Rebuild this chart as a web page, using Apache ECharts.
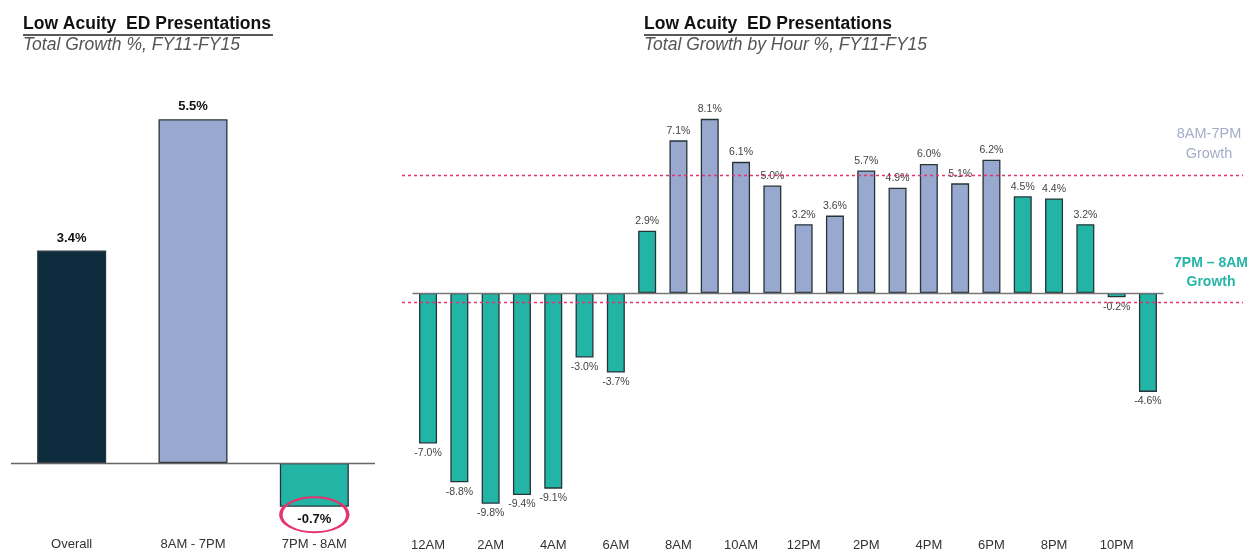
<!DOCTYPE html>
<html>
<head>
<meta charset="utf-8">
<script src="https://cdn.jsdelivr.net/npm/echarts@6/dist/echarts.min.js"></script>
<style>html,body{margin:0;padding:0;background:#fff;}#c{width:1253px;height:553px;}</style>
</head>
<body>
<div id="c"></div>
<script>
// Left chart: total growth
const totalCategories = ['Overall', '8AM - 7PM', '7PM - 8AM'];
const totalValues = [3.4, 5.5, -0.7];

// Right chart: growth by hour
const hourCategories = ['12AM','1AM','2AM','3AM','4AM','5AM','6AM','7AM','8AM','9AM','10AM','11AM',
                        '12PM','1PM','2PM','3PM','4PM','5PM','6PM','7PM','8PM','9PM','10PM','11PM'];
const hourValues = [-7.0, -8.8, -9.8, -9.4, -9.1, -3.0, -3.7, 2.9, 7.1, 8.1, 6.1, 5.0,
                    3.2, 3.6, 5.7, 4.9, 6.0, 5.1, 6.2, 4.5, 4.4, 3.2, -0.2, -4.6];
// Period of each hour: 'day' = 8AM-7PM, 'night' = 7PM-8AM
const hourPeriod = hourCategories.map((h, i) => (i >= 8 && i <= 18) ? 'day' : 'night');

// Reference lines (growth levels)
const refLines = [5.5, -0.45];

const NAVY = '#0c2b3d', BLUE = '#99a8cf', TEAL = '#22b5a6', EDGE = '#26343a', PINK = '#e6336e';
const totalColors = [NAVY, BLUE, TEAL];
const FONT = 'Liberation Sans, Arial, sans-serif';

const chart = echarts.init(document.getElementById('c'));
chart.setOption({
  backgroundColor: '#fff',
  animation: false,
  title: [
    { text: 'Low Acuity  ED Presentations', subtext: 'Total Growth %, FY11-FY15', left: 18, top: 10, itemGap: 3,
      textStyle: { fontFamily: FONT, fontSize: 17.5, fontWeight: 'bold', color: '#111' },
      subtextStyle: { fontFamily: FONT, fontSize: 17.5, fontStyle: 'italic', color: '#555' } },
    { text: 'Low Acuity  ED Presentations', subtext: 'Total Growth by Hour %, FY11-FY15', left: 639, top: 10, itemGap: 3,
      textStyle: { fontFamily: FONT, fontSize: 17.5, fontWeight: 'bold', color: '#111' },
      subtextStyle: { fontFamily: FONT, fontSize: 17.5, fontStyle: 'italic', color: '#555' } }
  ],
  graphic: [
    { type: 'line', shape: { x1: 23, y1: 35, x2: 273, y2: 35 }, style: { stroke: '#222', lineWidth: 1.5 } },
    { type: 'line', shape: { x1: 644, y1: 35, x2: 891, y2: 35 }, style: { stroke: '#222', lineWidth: 1.5 } },
    { type: 'text', x: 1209, y: 124, style: { text: '8AM-7PM\nGrowth', align: 'center', fill: '#a5acc8', font: '14.5px ' + FONT, lineHeight: 20 } },
    { type: 'text', x: 1211, y: 254, style: { text: '7PM – 8AM\nGrowth', align: 'center', fill: '#26b5a6', font: 'bold 14px ' + FONT, lineHeight: 19 } }
  ],
  grid: [
    { left: 11, right: 878, top: 88, bottom: 27.5 },
    { left: 412.4, right: 89.4, top: 99.5, bottom: 23.5 },
    { left: 402, right: 10, top: 99.5, bottom: 23.5 }
  ],
  xAxis: [
    { type: 'category', gridIndex: 0, data: totalCategories,
      axisLine: { show: false, onZero: false }, axisTick: { show: false },
      axisLabel: { fontFamily: FONT, fontSize: 13, color: '#333', margin: 12 } },
    { type: 'category', gridIndex: 1, data: hourCategories,
      axisLine: { show: false, onZero: false }, axisTick: { show: false },
      axisLabel: { interval: 1, fontFamily: FONT, fontSize: 13, color: '#333', margin: 9 } },
    { type: 'value', gridIndex: 2, min: 0, max: 1, show: false }
  ],
  yAxis: [
    { type: 'value', gridIndex: 0, min: -1, max: 6, show: false, splitLine: { show: false } },
    { type: 'value', gridIndex: 1, min: -11, max: 9, show: false, splitLine: { show: false } },
    { type: 'value', gridIndex: 2, min: -11, max: 9, show: false, splitLine: { show: false } }
  ],
  series: [
    { type: 'bar', xAxisIndex: 0, yAxisIndex: 0, barWidth: 69,
      data: totalValues.map((v, i) => ({ value: v,
        itemStyle: { color: totalColors[i] },
        label: { position: v >= 0 ? 'top' : 'bottom' } })),
      itemStyle: { borderColor: EDGE, borderWidth: 1.3 },
      label: { show: true, formatter: p => p.value.toFixed(1) + '%', fontFamily: FONT, fontSize: 13, fontWeight: 'bold', color: '#111', distance: 6 },
      markLine: { silent: true, symbol: 'none', label: { show: false },
        lineStyle: { color: '#666', type: 'solid', width: 1.3 },
        data: [{ yAxis: 0 }] },
      markPoint: { silent: true,
        data: [{ coord: [2, totalValues[2]], symbol: 'circle', symbolSize: [67, 35], symbolOffset: [0, 8] }],
        itemStyle: { color: 'rgba(0,0,0,0)', borderColor: PINK, borderWidth: 2.5 },
        label: { show: false } }
    },
    { type: 'bar', xAxisIndex: 1, yAxisIndex: 1, barWidth: 18,
      data: hourValues.map((v, i) => ({ value: v,
        itemStyle: { color: hourPeriod[i] === 'day' ? BLUE : TEAL },
        label: { position: v >= 0 ? 'top' : 'bottom' } })),
      itemStyle: { borderColor: EDGE, borderWidth: 1.3 },
      label: { show: true, formatter: p => p.value.toFixed(1) + '%', fontFamily: FONT, fontSize: 10.5, color: '#444', distance: 4 },
      markLine: { silent: true, symbol: 'none', label: { show: false },
        lineStyle: { color: '#777', type: 'solid', width: 1.3 },
        data: [{ yAxis: 0 }] }
    },
    { type: 'line', xAxisIndex: 2, yAxisIndex: 2, data: [], symbol: 'none',
      markLine: { silent: true, symbol: 'none', label: { show: false },
        lineStyle: { color: PINK, type: [3, 3], width: 1.3 },
        data: refLines.map(v => ({ yAxis: v })) }
    }
  ]
});
</script>
</body>
</html>
